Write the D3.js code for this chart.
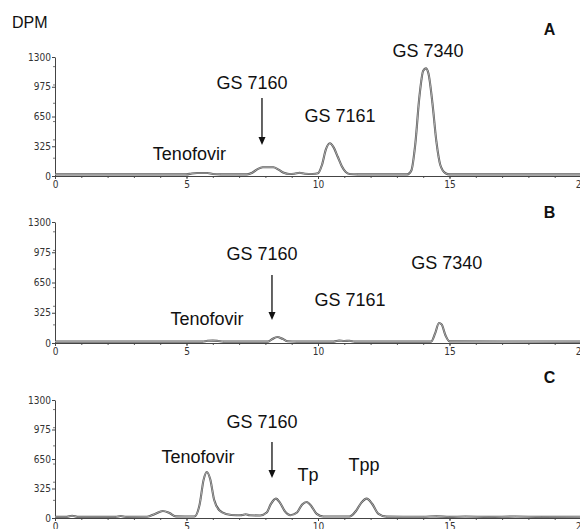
<!DOCTYPE html>
<html>
<head>
<meta charset="utf-8">
<script src="https://cdn.jsdelivr.net/npm/d3@7"></script>
<style>
  body { margin: 0; background: #fff; }
  svg { display: block; }
  .tick text { font-family: "Liberation Sans Narrow", "DejaVu Sans Condensed", Arial, sans-serif; font-size: 10px; fill: #333; }
  .lbl { font-family: "Liberation Sans", Arial, sans-serif; font-size: 18px; fill: #111; }
  .letter { font-family: "Liberation Sans", Arial, sans-serif; font-size: 16px; font-weight: bold; fill: #111; }
</style>
</head>
<body>
<svg id="chart" width="580" height="529"></svg>
<script>
// retention time (min), DPM
var traceA = [[0,18],[5.0,18],[5.2,28],[5.4,32],[5.8,32],[6.0,22],[6.3,18],[7.3,18],[7.5,35],[7.7,75],[7.9,95],[8.3,95],[8.5,70],[8.7,35],[8.9,22],[9.1,25],[9.3,35],[9.5,25],[9.8,22],[10.0,30],[10.15,120],[10.3,290],[10.45,357],[10.6,310],[10.75,210],[10.9,110],[11.05,45],[11.2,22],[11.5,18],[13.4,18],[13.55,60],[13.7,350],[13.85,850],[14.0,1150],[14.1,1176],[14.2,1120],[14.35,800],[14.5,380],[14.65,120],[14.85,30],[15.0,18],[20,18]];
var traceB = [[0,15],[5.6,15],[5.8,24],[6.0,26],[6.2,22],[6.4,15],[8.1,15],[8.25,40],[8.45,65],[8.65,45],[8.85,18],[9.2,15],[10.6,15],[10.8,26],[11.0,22],[11.2,24],[11.4,15],[14.3,15],[14.45,100],[14.6,215],[14.7,200],[14.85,80],[15.0,18],[20,15]];
var traceC = [[0,12],[0.45,12],[0.65,24],[0.85,12],[2.3,12],[2.5,22],[2.7,12],[3.5,14],[3.8,45],[4.1,77],[4.35,55],[4.6,18],[5.3,16],[5.5,150],[5.65,420],[5.77,507],[5.9,430],[6.05,200],[6.25,85],[6.5,45],[6.9,30],[7.1,32],[7.25,42],[7.4,30],[7.8,28],[8.05,60],[8.2,150],[8.4,213],[8.55,170],[8.75,70],[8.95,30],[9.2,60],[9.4,150],[9.57,176],[9.75,130],[9.95,45],[10.2,16],[11.2,16],[11.45,80],[11.65,170],[11.85,213],[12.05,160],[12.3,45],[12.6,15],[14,14],[14.5,18],[15,12],[15.6,16],[16.5,12],[17.5,16],[18.5,12],[20,14]];

var xTicks = [0, 5, 10, 15, 20];
var yTicks = [0, 325, 650, 975, 1300];

// annotations in data units: [text, time, dpm]
var labelsA = [["Tenofovir", 5.11, 175], ["GS 7160", 7.49, 950], ["GS 7161", 10.84, 590], ["GS 7340", 14.18, 1300]];
var labelsB = [["Tenofovir", 5.78, 193], ["GS 7160", 7.87, 892], ["GS 7161", 11.22, 397], ["GS 7340", 14.9, 795]];
var labelsC = [["Tenofovir", 5.44, 606], ["GS 7160", 7.87, 992], ["Tp", 9.62, 408], ["Tpp", 11.75, 518]];
// arrows: [time, dpm from, dpm to]
var arrowA = [7.87, 852, 339];
var arrowB = [8.25, 731, 247];
var arrowC = [8.25, 837, 441];
var letters = [["A", 18.8, 1540], ["B", 18.8, 1343], ["C", 18.8, 1487]];

var panels = [
  {trace: traceA, labels: labelsA, arrow: arrowA, letter: letters[0], y0: 176, y1: 57},
  {trace: traceB, labels: labelsB, arrow: arrowB, letter: letters[1], y0: 343, y1: 222},
  {trace: traceC, labels: labelsC, arrow: arrowC, letter: letters[2], y0: 518, y1: 400}
];

var svg = d3.select("#chart");
var x = d3.scaleLinear().domain([0, 20]).range([55, 581]);

svg.append("text").attr("class", "lbl").attr("x", 12).attr("y", 28)
  .style("font-size", "16px").text("DPM");

panels.forEach(function(p){
  var y = d3.scaleLinear().domain([0, 1300]).range([p.y0, p.y1]);
  var g = svg.append("g");

  // minor ticks every minute
  g.append("g").attr("transform", "translate(0," + p.y0 + ")")
    .call(d3.axisBottom(x).ticks(20).tickSize(2).tickFormat(""))
    .call(function(a){ a.select(".domain").remove(); a.selectAll("line").attr("stroke", "#555"); });
  g.append("g").attr("transform", "translate(0," + p.y0 + ")")
    .call(d3.axisBottom(x).tickValues(xTicks).tickSize(3).tickPadding(2).tickSizeOuter(0).tickFormat(d3.format("d")))
    .call(function(a){ a.selectAll("line, .domain").attr("stroke", "#444"); });

  g.append("g").attr("transform", "translate(55,0)")
    .call(d3.axisLeft(y).ticks(8).tickSize(2).tickFormat(""))
    .call(function(a){ a.select(".domain").remove(); a.selectAll("line").attr("stroke", "#777"); });
  g.append("g").attr("transform", "translate(55,0)")
    .call(d3.axisLeft(y).tickValues(yTicks).tickSize(3).tickPadding(1).tickSizeOuter(0).tickFormat(d3.format("d")))
    .call(function(a){ a.selectAll("line, .domain").attr("stroke", "#444"); });

  var line = d3.line().x(function(d){ return x(d[0]); }).y(function(d){ return y(d[1]); })
    .curve(d3.curveMonotoneX);
  g.append("path").datum(p.trace).attr("d", line)
    .attr("fill", "none").attr("stroke", "#555").attr("stroke-width", 2.1);
  g.append("path").datum(p.trace).attr("d", line)
    .attr("fill", "none").attr("stroke", "#e4e4e4").attr("stroke-width", 0.6);

  g.selectAll("text.lbl").data(p.labels).join("text").attr("class", "lbl")
    .attr("x", function(d){ return x(d[1]); }).attr("y", function(d){ return y(d[2]); })
    .attr("text-anchor", "middle").text(function(d){ return d[0]; });

  var ax = x(p.arrow[0]), ya = y(p.arrow[1]), yb = y(p.arrow[2]);
  g.append("line").attr("x1", ax).attr("x2", ax).attr("y1", ya).attr("y2", yb - 6)
    .attr("stroke", "#111").attr("stroke-width", 1.3);
  g.append("path").attr("d", "M" + (ax - 3.5) + "," + (yb - 8) + "L" + (ax + 3.5) + "," + (yb - 8) + "L" + ax + "," + yb + "Z")
    .attr("fill", "#111");

  g.append("text").attr("class", "letter")
    .attr("x", x(p.letter[1])).attr("y", y(p.letter[2]))
    .attr("text-anchor", "middle").text(p.letter[0]);
});
</script>
</body>
</html>
